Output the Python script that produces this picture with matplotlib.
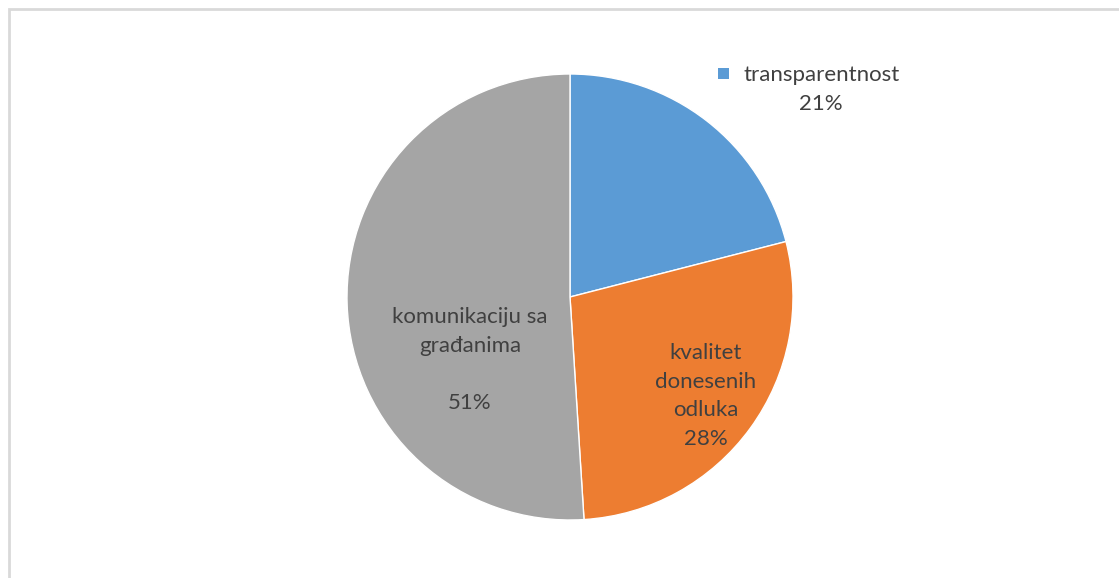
import matplotlib
matplotlib.use("Agg")
import matplotlib.pyplot as plt
from matplotlib.patches import Rectangle

# Share of answers per area
categories = ["transparentnost", "kvalitet donesenih odluka", "komunikaciju sa građanima"]
shares = [21, 28, 51]
colors = ["#5B9BD5", "#ED7D31", "#A5A5A5"]

W, H = 1119, 578
fig = plt.figure(figsize=(W / 100, H / 100), dpi=100)
ax = fig.add_axes([0, 0, 1, 1])

cx, cy, r = 570, H - 297, 223
ax.pie(shares, colors=colors, startangle=90, counterclock=False,
       center=(cx, cy), radius=r, frame=True,
       wedgeprops=dict(edgecolor="white", linewidth=1.0))
ax.set_xlim(0, W)
ax.set_ylim(0, H)
ax.axis("off")

# chart area border
ax.add_patch(Rectangle((9, -20), W + 20, H - 9 + 20, fill=False,
                       edgecolor="#D9D9D9", linewidth=2.0, zorder=0))

font = dict(family="Lato", fontsize=16, color="#404040")

# data labels
ax.add_patch(Rectangle((718, H - 79), 11, 11, facecolor=colors[0],
                       edgecolor="none"))
ax.text(743, H - 75, categories[0], ha="left", va="center", **font)
ax.text(821, H - 104, f"{shares[0]}%", ha="center", va="center", **font)

ax.text(706, H - 396, "kvalitet\ndonesenih\nodluka\n" + f"{shares[1]}%",
        ha="center", va="center", linespacing=1.55, **font)

ax.text(470, H - 360, "komunikaciju sa\ngrađanima\n\n" + f"{shares[2]}%",
        ha="center", va="center", linespacing=1.55, **font)

fig.savefig("out.png", dpi=100)
